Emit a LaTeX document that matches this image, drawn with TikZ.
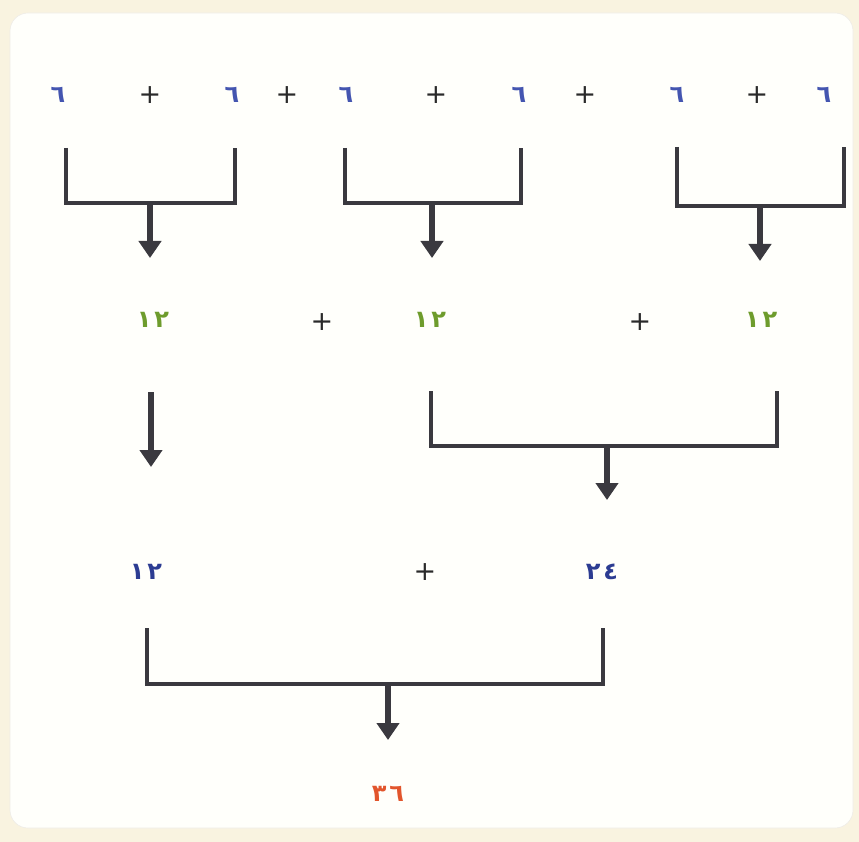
\documentclass[tikz,border=0pt]{standalone}
\usepackage{fontspec}
\usetikzlibrary{arrows.meta}
\newfontfamily\arfont[Script=Arabic]{DejaVu Sans}
\newfontfamily\plusfont{DejaVu Sans}
\definecolor{bgcream}{HTML}{F9F3E0}
\definecolor{panelfill}{HTML}{FFFFFB}
\definecolor{linegray}{HTML}{3A393F}
\definecolor{numblue}{HTML}{4455B0}
\definecolor{numdblue}{HTML}{2C3C92}
\definecolor{numgreen}{HTML}{6E9C2C}
\definecolor{numred}{HTML}{E2552C}
\definecolor{plusgray}{HTML}{2A2A2A}
\tikzset{
  numbase/.style={font=\arfont\bfseries\fontsize{24}{24}\selectfont,inner sep=0pt},
  sixnum/.style={numbase,text=numblue},
  twelvenum/.style={numbase,text=numgreen},
  lownum/.style={numbase,text=numdblue},
  resnum/.style={numbase,text=numred},
  plussign/.style={text=plusgray,font=\plusfont\fontsize{27}{27}\selectfont,inner sep=0pt},
  bracketline/.style={draw=linegray,line width=4pt,line join=miter},
  downarrow/.style={draw=linegray,line width=5.5pt,-{Triangle[width=22pt,length=17pt]}}
}
\newcommand{\twodig}[2]{#1\kern3pt#2}
\begin{document}
\begin{tikzpicture}[x=1pt,y=-1pt]
\useasboundingbox (0,0) rectangle (859,842);
\fill[bgcream] (0,0) rectangle (859,842);
\fill[panelfill,draw=bgcream!70!gray!40,line width=0.6pt,rounded corners=18pt] (10,13) rectangle (853,828);
% row 1
\node[sixnum] (s1) at (58,95) {٦};
\node[plussign] (p1) at (150,95) {+};
\node[sixnum] (s2) at (232,95) {٦};
\node[plussign] (p2) at (287,95) {+};
\node[sixnum] (s3) at (346,95) {٦};
\node[plussign] (p3) at (436,95) {+};
\node[sixnum] (s4) at (519,95) {٦};
\node[plussign] (p4) at (585,95) {+};
\node[sixnum] (s5) at (677,95) {٦};
\node[plussign] (p5) at (757,95) {+};
\node[sixnum] (s6) at (824,95) {٦};
% row 2
\node[twelvenum] (t1) at (153,320) {\twodig{١}{٢}};
\node[plussign] (q1) at (322,322) {+};
\node[twelvenum] (t2) at (430,320) {\twodig{١}{٢}};
\node[plussign] (q2) at (640,322) {+};
\node[twelvenum] (t3) at (761,320) {\twodig{١}{٢}};
% row 3
\node[lownum] (u1) at (146,572) {\twodig{١}{٢}};
\node[plussign] (r1) at (425,572) {+};
\node[lownum] (u2) at (602,572) {\twodig{٢}{٤}};
% result
\node[resnum] (res) at (388,794) {\twodig{٣}{٦}};
% bracket 1
\coordinate (b1l) at (66,148); \coordinate (b1r) at (235,148);
\coordinate (b1m) at (150,203); \coordinate (b1e) at (150,258);
\draw[bracketline] (b1l) -- (b1l |- b1m) -- (b1r |- b1m) -- (b1r);
\draw[downarrow] (b1m) -- (b1e);
% bracket 2
\coordinate (b2l) at (345,148); \coordinate (b2r) at (521,148);
\coordinate (b2m) at (432,203); \coordinate (b2e) at (432,258);
\draw[bracketline] (b2l) -- (b2l |- b2m) -- (b2r |- b2m) -- (b2r);
\draw[downarrow] (b2m) -- (b2e);
% bracket 3
\coordinate (b3l) at (677,147); \coordinate (b3r) at (844,147);
\coordinate (b3m) at (760,206); \coordinate (b3e) at (760,261);
\draw[bracketline] (b3l) -- (b3l |- b3m) -- (b3r |- b3m) -- (b3r);
\draw[downarrow] (b3m) -- (b3e);
% single arrow row 2
\coordinate (a1s) at (151,392); \coordinate (a1e) at (151,467);
\draw[downarrow] (a1s) -- (a1e);
% bracket 4
\coordinate (b4l) at (431,391); \coordinate (b4r) at (777,391);
\coordinate (b4m) at (607,446); \coordinate (b4e) at (607,500);
\draw[bracketline] (b4l) -- (b4l |- b4m) -- (b4r |- b4m) -- (b4r);
\draw[downarrow] (b4m) -- (b4e);
% bracket 5
\coordinate (b5l) at (147,628); \coordinate (b5r) at (603,628);
\coordinate (b5m) at (388,684); \coordinate (b5e) at (388,740);
\draw[bracketline] (b5l) -- (b5l |- b5m) -- (b5r |- b5m) -- (b5r);
\draw[downarrow] (b5m) -- (b5e);
\end{tikzpicture}
\end{document}
